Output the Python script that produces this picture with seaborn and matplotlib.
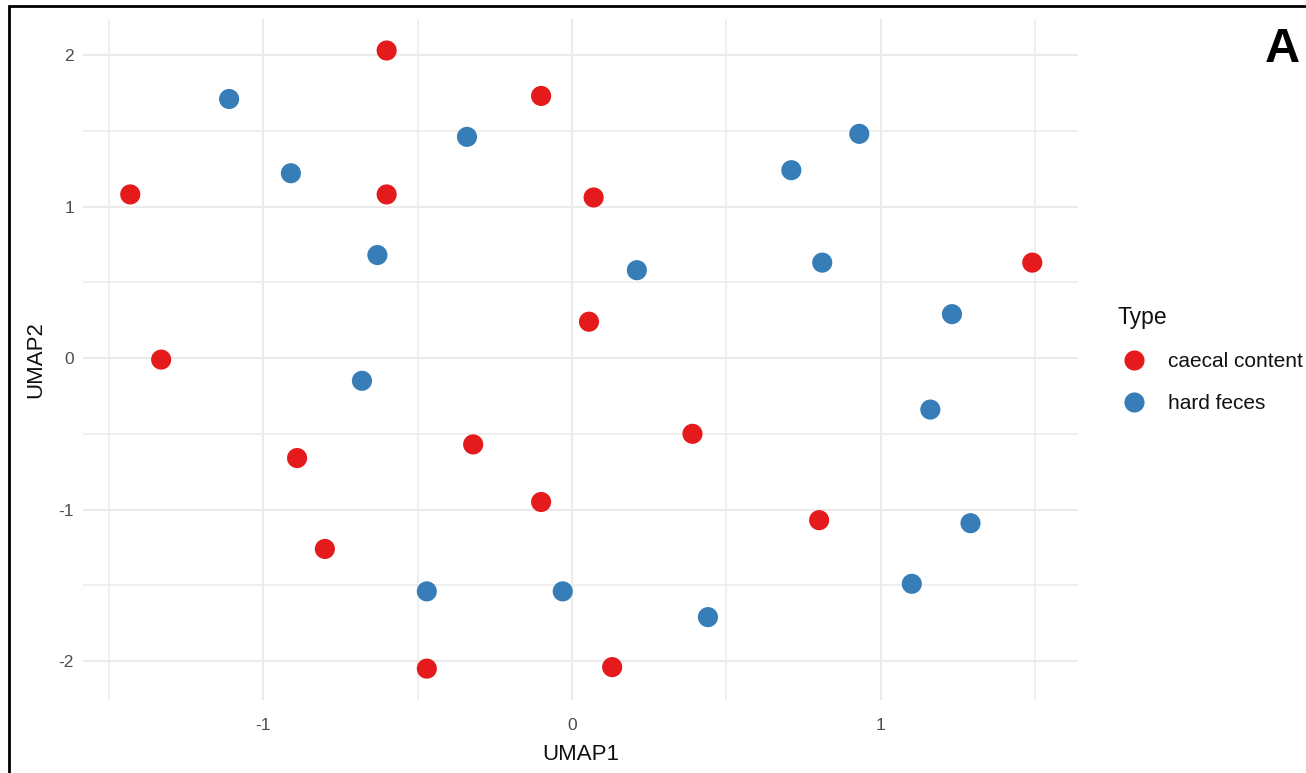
import pandas as pd
import numpy as np
import matplotlib.pyplot as plt
import seaborn as sb
from matplotlib.patches import Rectangle

# UMAP coordinates
caecal_x = [-0.60, -0.10, -1.43, -0.60, 0.07, 1.49, 0.055, -1.33, -0.89, -0.32,
            0.39, -0.10, 0.80, -0.80, -0.47, 0.13]
caecal_y = [2.03, 1.73, 1.08, 1.08, 1.06, 0.63, 0.24, -0.01, -0.66, -0.57,
            -0.50, -0.95, -1.07, -1.26, -2.05, -2.04]
hard_x = [-1.11, -0.34, -0.91, 0.93, 0.71, -0.63, 0.21, 0.81, 1.23, -0.68,
          1.16, 1.29, 1.10, -0.47, -0.03, 0.44]
hard_y = [1.71, 1.46, 1.22, 1.48, 1.24, 0.68, 0.58, 0.63, 0.29, -0.15,
          -0.34, -1.09, -1.49, -1.54, -1.54, -1.71]
types = ["caecal content", "hard feces"]
palette = {"caecal content": "#E41A1C", "hard feces": "#377EB8"}

df = pd.DataFrame({
    "UMAP1": caecal_x + hard_x,
    "UMAP2": caecal_y + hard_y,
    "Type": [types[0]] * len(caecal_x) + [types[1]] * len(hard_x),
})

sb.set_theme(style="white")
plt.rcParams['font.family'] = ['Liberation Sans', 'DejaVu Sans']
plt.rcParams['axes.unicode_minus'] = False

fig = plt.figure(figsize=(13.06, 7.73), dpi=100)
# panel spans the ggplot-style expanded range
ax = fig.add_axes([83 / 1306, 73 / 773, 995 / 1306, 681 / 773])

sb.scatterplot(data=df, x="UMAP1", y="UMAP2", hue="Type", hue_order=types,
               palette=palette, s=210, edgecolor="none", ax=ax, zorder=3)

ax.set_xlim(-1.583, 1.638)
ax.set_ylim(-2.257, 2.238)
ax.set_xticks([-1, 0, 1])
ax.set_yticks([-2, -1, 0, 1, 2])
ax.set_xticks(np.arange(-1.5, 1.6, 1.0), minor=True)
ax.set_yticks(np.arange(-1.5, 1.6, 1.0), minor=True)
ax.grid(True, which="major", color="#EBEBEB", linewidth=1.5, zorder=0)
ax.grid(True, which="minor", color="#EBEBEB", linewidth=1.1, zorder=0)
ax.set_axisbelow(True)
for s in ax.spines.values():
    s.set_visible(False)
ax.tick_params(which="both", length=0, labelsize=12.5, labelcolor="#4D4D4D")
ax.tick_params(axis="x", pad=13)
ax.tick_params(axis="y", pad=6.5)
ax.set_xlabel("UMAP1", fontsize=16, color="#111111", labelpad=8)
ax.set_ylabel("UMAP2", fontsize=16, color="#111111", labelpad=9)

leg = ax.legend(title="Type", loc="center left", bbox_to_anchor=(1.040, 0.500),
                frameon=False, fontsize=15, title_fontsize=16.5,
                markerscale=1.0, handlelength=1.6, handletextpad=0.79,
                labelspacing=1.1, borderaxespad=0, borderpad=0)
leg._legend_box.align = "left"
leg.get_title().set_color("#111111")
for t in leg.get_texts():
    t.set_color("#111111")

# panel label and frame
fig.text(1265 / 1306, 1 - 62 / 773, "A", fontsize=35, fontweight="bold",
         color="black", ha="left", va="baseline")
fig.patches.append(Rectangle((0.0069, -0.1), 1.2, 1.1 - 6 / 773, transform=fig.transFigure,
                             fill=False, edgecolor="black", linewidth=2))

fig.savefig("out.png", dpi=100)
